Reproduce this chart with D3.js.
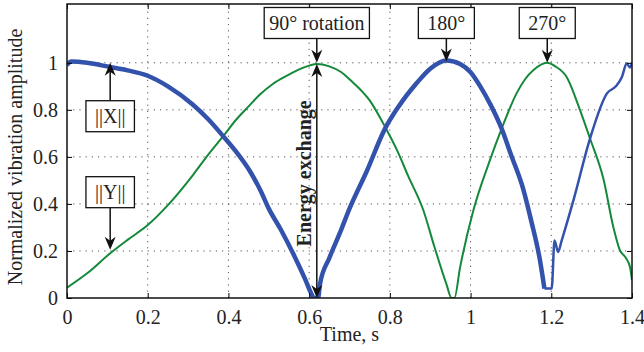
<!DOCTYPE html>
<html>
<head>
<meta charset="utf-8">
<script src="https://cdn.jsdelivr.net/npm/d3@7"></script>
<style>
  body { margin: 0; background: #fff; }
  svg text { font-family: "Liberation Serif", "Times New Roman", serif; }
</style>
</head>
<body>
<div id="chart"></div>
<script>
// values: [time s, normalized amplitude]
var seriesX = [
  [0.000, 0.99], [0.010, 1.005], [0.050, 1.00], [0.107, 0.982], [0.150, 0.968],
  [0.200, 0.945], [0.250, 0.90], [0.310, 0.825], [0.350, 0.76], [0.387, 0.688],
  [0.420, 0.62], [0.453, 0.54], [0.480, 0.455], [0.500, 0.38], [0.530, 0.29],
  [0.560, 0.19], [0.590, 0.08], [0.605, 0.02], [0.612, 0.0], [0.622, 0.0],
  [0.627, 0.06], [0.650, 0.17], [0.677, 0.28], [0.700, 0.38], [0.743, 0.54],
  [0.788, 0.72], [0.820, 0.81], [0.867, 0.915], [0.900, 0.975], [0.940, 1.01],
  [0.974, 0.995], [1.000, 0.96], [1.024, 0.90], [1.050, 0.82], [1.077, 0.72],
  [1.100, 0.61], [1.131, 0.46], [1.150, 0.33], [1.172, 0.16], [1.183, 0.04]
];
var seriesXtail = [
  [1.183, 0.04], [1.201, 0.04], [1.208, 0.245], [1.217, 0.196], [1.225, 0.24],
  [1.255, 0.416], [1.296, 0.678], [1.338, 0.87], [1.360, 0.90], [1.375, 0.94],
  [1.387, 0.997], [1.395, 0.98], [1.400, 1.0]
];
var seriesY = [
  [0.000, 0.044], [0.050, 0.105], [0.107, 0.19], [0.150, 0.247], [0.200, 0.31],
  [0.250, 0.395], [0.313, 0.525], [0.350, 0.61], [0.387, 0.688], [0.420, 0.76],
  [0.453, 0.82], [0.478, 0.865], [0.510, 0.91], [0.545, 0.945], [0.580, 0.975],
  [0.619, 0.995], [0.650, 0.985], [0.680, 0.96], [0.700, 0.93], [0.750, 0.84],
  [0.788, 0.728], [0.820, 0.62], [0.845, 0.52], [0.883, 0.373], [0.910, 0.22],
  [0.940, 0.06], [0.953, 0.0], [0.960, 0.0], [0.974, 0.13], [1.007, 0.373],
  [1.048, 0.586], [1.077, 0.72], [1.114, 0.87], [1.135, 0.93], [1.156, 0.969],
  [1.189, 1.0], [1.210, 0.985], [1.238, 0.94], [1.271, 0.80], [1.296, 0.678],
  [1.329, 0.508], [1.354, 0.30], [1.370, 0.203], [1.385, 0.17], [1.395, 0.132],
  [1.400, 0.075]
];
var xTicks = [0, 0.2, 0.4, 0.6, 0.8, 1, 1.2, 1.4];
var yTicks = [0, 0.2, 0.4, 0.6, 0.8, 1];
var xTickLabels = ["0", "0.2", "0.4", "0.6", "0.8", "1", "1.2", "1.4"];
var yTickLabels = ["0", "0.2", "0.4", "0.6", "0.8", "1"];

// callouts: label, time of arrow, amplitude at arrow tip
var topCallouts = [
  { label: "90\u00b0 rotation", t: 0.619, v: 1.0 },
  { label: "180\u00b0", t: 0.94, v: 1.005 },
  { label: "270\u00b0", t: 1.19, v: 1.0 }
];
var sideCallouts = [
  { label: "||X||", t: 0.107, v: 1.0, boxV: 0.775, dir: "up" },
  { label: "||Y||", t: 0.107, v: 0.205, boxV: 0.452, dir: "down" }
];

var width = 644, height = 352;
var margin = { left: 67, right: 12, top: 4, bottom: 54 };
var fs = 20;

var svg = d3.select('#chart').append('svg')
    .attr("width", width)
    .attr("height", height);

var x = d3.scaleLinear().domain([0, 1.4]).range([margin.left, width - margin.right]);
var y = d3.scaleLinear().domain([0, 1.25]).range([height - margin.bottom, margin.top]);

var x0 = x.range()[0], x1 = x.range()[1], y0 = y.range()[0], y1 = y.range()[1];

// grid
svg.append("g").selectAll("line")
    .data(xTicks.slice(1, -1)).enter().append("line")
    .attr("x1", d => x(d)).attr("x2", d => x(d))
    .attr("y1", y0).attr("y2", y1)
    .attr("stroke", "#555").attr("stroke-width", 1)
    .attr("stroke-dasharray", "1.2,5");
svg.append("g").selectAll("line")
    .data(yTicks.slice(1)).enter().append("line")
    .attr("x1", x0).attr("x2", x1)
    .attr("y1", d => y(d)).attr("y2", d => y(d))
    .attr("stroke", "#555").attr("stroke-width", 1)
    .attr("stroke-dasharray", "1.2,5");

// clip
svg.append("clipPath").attr("id", "clip").append("rect")
    .attr("x", x0).attr("y", y1).attr("width", x1 - x0).attr("height", y0 - y1);

var line = d3.line().curve(d3.curveMonotoneX).x(d => x(d[0])).y(d => y(d[1]));
var plot = svg.append("g").attr("clip-path", "url(#clip)");

plot.append("path").datum(seriesY)
    .attr("d", line).attr("fill", "none")
    .attr("stroke", "#14893a").attr("stroke-width", 2)
    .attr("stroke-linejoin", "round");
plot.append("path").datum(seriesX)
    .attr("d", line).attr("fill", "none")
    .attr("stroke", "#3352ac").attr("stroke-width", 4.5)
    .attr("stroke-linejoin", "round");
plot.append("path").datum(seriesXtail)
    .attr("d", line).attr("fill", "none")
    .attr("stroke", "#3352ac").attr("stroke-width", 2.5)
    .attr("stroke-linejoin", "round");

// axes frame with inward ticks on all sides
var axB = d3.axisBottom(x).tickValues(xTicks).tickSize(-5).tickFormat((d, i) => xTickLabels[i]).tickPadding(12);
var axT = d3.axisTop(x).tickValues(xTicks).tickSize(-5).tickFormat("");
var axL = d3.axisLeft(y).tickValues(yTicks).tickSize(-5).tickFormat((d, i) => yTickLabels[i]).tickPadding(9);
var axR = d3.axisRight(y).tickValues(yTicks).tickSize(-5).tickFormat("");

function styleAxis(g) {
  g.select(".domain").remove();
  g.selectAll("line").attr("stroke", "#000").attr("stroke-width", 1);
  g.selectAll("text").style("font-size", fs + "px").attr("fill", "#222");
}
svg.append("g").attr("transform", "translate(0," + y0 + ")").call(axB).call(styleAxis);
svg.append("g").attr("transform", "translate(0," + y1 + ")").call(axT).call(styleAxis);
svg.append("g").attr("transform", "translate(" + x0 + ",0)").call(axL).call(styleAxis);
svg.append("g").attr("transform", "translate(" + x1 + ",0)").call(axR).call(styleAxis);

svg.append("rect")
    .attr("x", x0).attr("y", y1).attr("width", x1 - x0).attr("height", y0 - y1)
    .attr("fill", "none").attr("stroke", "#111").attr("stroke-width", 1.5);

// axis titles
svg.append("text")
    .attr("x", (x0 + x1) / 2).attr("y", 341)
    .attr("text-anchor", "middle").style("font-size", fs + "px").attr("fill", "#222")
    .text("Time, s");
svg.append("text")
    .attr("transform", "translate(22," + ((y0 + y1) / 2 + 6) + ") rotate(-90)")
    .attr("text-anchor", "middle").style("font-size", fs + "px").attr("fill", "#222")
    .text("Normalized vibration amplitude");

// arrows
var ann = svg.append("g");

function head(px, py, dir) {
  // dir: angle in degrees of pointing direction (90 = down)
  ann.append("path")
      .attr("d", "M0,0 L-13,-5.5 L-9,0 L-13,5.5 Z")
      .attr("transform", "translate(" + px + "," + py + ") rotate(" + dir + ")")
      .attr("fill", "#111");
}
function arrowLine(px, ya, yb) {
  ann.append("line")
      .attr("x1", px).attr("x2", px).attr("y1", ya).attr("y2", yb)
      .attr("stroke", "#111").attr("stroke-width", 1.5);
}
function box(cx, cy, label) {
  var g = ann.append("g");
  var t = g.append("text").attr("x", cx).attr("y", cy + 7)
      .attr("text-anchor", "middle").style("font-size", fs + "px").attr("fill", "#222")
      .text(label);
  var bb = t.node().getBBox();
  var padX = label.length < 6 ? 9 : 5;
  g.insert("rect", "text")
      .attr("x", bb.x - padX).attr("y", cy - 15)
      .attr("width", bb.width + 2 * padX).attr("height", 31)
      .attr("fill", "#fff").attr("stroke", "#111").attr("stroke-width", 1.3);
  return { top: cy - 15, bottom: cy + 16 };
}

topCallouts.forEach(function (c) {
  var px = x(c.t), tip = y(c.v);
  var b = box(px, 22.5, c.label);
  arrowLine(px, b.bottom, tip - 4);
  head(px, tip, 90);
});

sideCallouts.forEach(function (c) {
  var px = x(c.t), tip = y(c.v);
  var b = box(px, y(c.boxV), c.label);
  if (c.dir === "up") {
    arrowLine(px, b.top, tip + 4);
    head(px, tip, -90);
  } else {
    arrowLine(px, b.bottom, tip - 4);
    head(px, tip, 90);
  }
});

// energy exchange double arrow
var ex = x(topCallouts[0].t);
arrowLine(ex, y(1.0) + 4, y(0) - 4);
head(ex, y(0.995), -90);
head(ex, y(0), 90);
ann.append("text")
    .attr("transform", "translate(" + (ex - 6) + "," + y(0.53) + ") rotate(-90)")
    .attr("text-anchor", "middle").style("font-size", fs + "px")
    .style("font-weight", "bold").attr("fill", "#222")
    .text("Energy exchange");
</script>
</body>
</html>
